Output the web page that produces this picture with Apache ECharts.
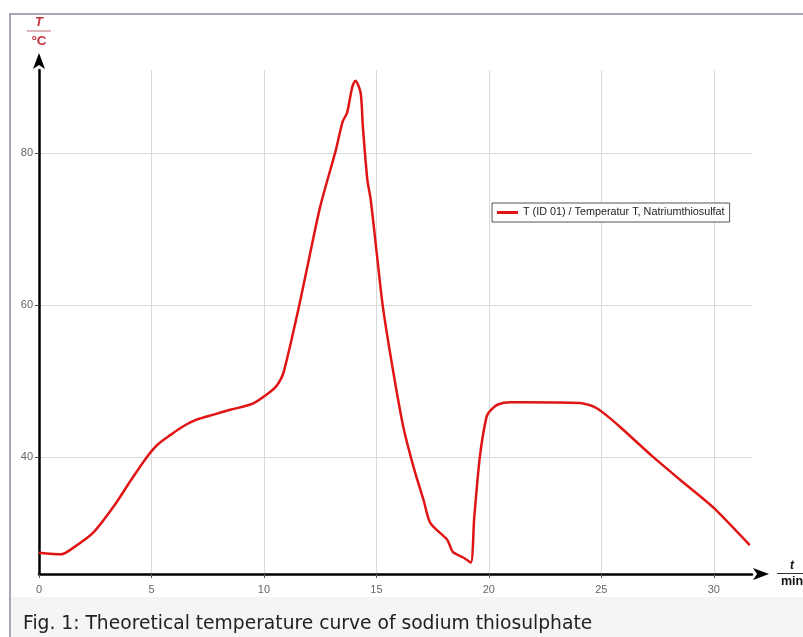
<!DOCTYPE html>
<html lang="en">
    <head>
        <meta charset="utf-8">
        <title>Temperature curve of sodium thiosulphate</title>
        <style>
            html, body { margin: 0; padding: 0; background: #fff; }
        </style>
    </head>

    <body>
        <div id="echart" style="width: 803px; height: 637px;"></div>
        <script src="https://cdn.jsdelivr.net/npm/echarts@6/dist/echarts.min.js"></script>
        <script>
            // measured curve, t in min, T in °C
            let times = [0, 1, 1.5, 2.4, 3.3, 4.1, 4.8, 5.3, 5.85, 6.4, 7.0, 7.8, 8.5, 9.5, 10.3, 10.6, 10.87,
                11.5, 11.93, 12.5, 13.2, 13.5, 13.7, 13.93, 14.07, 14.3, 14.4, 14.6, 14.75, 15.05, 15.3, 15.75,
                16.2, 16.65, 17.1, 17.4, 18.15, 18.4, 18.9, 19.2, 19.35, 19.6, 19.9, 20.1, 20.4, 20.95, 21.5,
                24.05, 24.5, 24.8, 25.3, 25.85, 27.3, 28.5, 30, 31.6];
            let temps = [27.4, 27.2, 28.0, 30.0, 33.4, 37.0, 40.0, 41.7, 42.9, 44.0, 44.9, 45.6, 46.2, 47.0, 48.6, 49.5, 51.1,
                59.0, 65.0, 72.9, 80.4, 84.1, 85.3, 88.7, 89.5, 87.9, 83.4, 76.4, 73.8, 65.9, 59.5, 51.2,
                43.9, 38.7, 34.3, 31.3, 29.1, 27.5, 26.7, 26.1, 32.0, 40.0, 45.3, 46.2, 46.9, 47.2, 47.2,
                47.1, 46.8, 46.4, 45.3, 43.9, 40.0, 37.0, 33.3, 28.4];
            let xTicks = [0, 5, 10, 15, 20, 25, 30];
            let yTicks = [40, 60, 80];
            let seriesName = 'T (ID 01) / Temperatur T, Natriumthiosulfat';

            let data = times.map((t, i) => [t, temps[i]]);

            let myChart = echarts.init(document.getElementById('echart'));
            let labelFont = 'Liberation Sans, Arial, sans-serif';

            let option = {
                animation: false,
                backgroundColor: '#fff',
                grid: { left: 39, top: 70, right: 51, bottom: 63, containLabel: false, outerBoundsMode: 'none' },
                graphic: [
                    { type: 'rect', shape: { x: 11, y: 597, width: 792, height: 40 }, style: { fill: '#f5f5f5' } },
                    { type: 'rect', shape: { x: 9, y: 13, width: 794, height: 2 }, style: { fill: '#a2a9b1' } },
                    { type: 'rect', shape: { x: 9, y: 13, width: 2, height: 624 }, style: { fill: '#a2a9b1' } },
                    {
                        type: 'text', x: 23, y: 624.5,
                        style: {
                            text: 'Fig. 1: Theoretical temperature curve of sodium thiosulphate',
                            font: '18.7px DejaVu Sans', fill: '#202122', verticalAlign: 'middle'
                        }
                    }
                ],
                legend: {
                    left: 492, top: 203,
                    padding: [4, 5, 4, 5],
                    backgroundColor: '#fff',
                    borderColor: '#555',
                    borderWidth: 1,
                    borderRadius: 0,
                    icon: 'rect',
                    itemWidth: 21,
                    itemHeight: 3,
                    textStyle: { fontSize: 10.8, color: '#222', fontFamily: labelFont },
                    data: [seriesName]
                },
                xAxis: {
                    type: 'value',
                    min: 0,
                    max: 31.7,
                    name: '{t|t}\n{bar|}\n{u|min}',
                    nameLocation: 'end',
                    nameGap: 25,
                    nameTextStyle: {
                        rich: {
                            t: { fontSize: 12, fontStyle: 'italic', fontWeight: 'bold', color: '#111', align: 'center', width: 30, lineHeight: 11 },
                            bar: { width: 30, height: 1, backgroundColor: '#333', lineHeight: 4 },
                            u: { fontSize: 12.5, fontWeight: 'bold', color: '#111', align: 'center', width: 30, lineHeight: 12 }
                        }
                    },
                    axisLine: { lineStyle: { color: '#000', width: 2.5 }, symbol: ['none', 'arrow'], symbolSize: [9, 16], symbolOffset: [0, 17] },
                    axisTick: { customValues: xTicks, length: 4, lineStyle: { color: '#555' } },
                    axisLabel: { customValues: xTicks, color: '#666', fontSize: 11, fontFamily: labelFont, margin: 10 },
                    splitLine: { show: true, lineStyle: { color: '#d9d9d9', width: 1 } }
                },
                yAxis: {
                    type: 'value',
                    min: 24.6,
                    max: 90.9,
                    name: '{t|T}\n{bar|}\n{u|°C}',
                    nameLocation: 'end',
                    nameGap: 22,
                    nameTextStyle: {
                        align: 'center',
                        rich: {
                            t: { fontSize: 13, fontStyle: 'italic', fontWeight: 'bold', color: '#c8323c', align: 'center', width: 24, lineHeight: 12 },
                            bar: { width: 24, height: 1, backgroundColor: '#b86a70', lineHeight: 6 },
                            u: { fontSize: 13.5, fontWeight: 'bold', color: '#c8323c', align: 'center', width: 24, lineHeight: 14 }
                        }
                    },
                    axisLine: { lineStyle: { color: '#000', width: 2.5 }, symbol: ['none', 'arrow'], symbolSize: [9, 16], symbolOffset: [0, 17] },
                    axisTick: { customValues: yTicks, length: 4, lineStyle: { color: '#555' } },
                    axisLabel: { customValues: yTicks, color: '#666', fontSize: 11, fontFamily: labelFont, margin: 6 },
                    splitLine: { show: true, lineStyle: { color: '#d9d9d9', width: 1 } }
                },
                series: [
                    {
                        name: seriesName,
                        type: 'line',
                        data: data,
                        smooth: 0.25,
                        showSymbol: false,
                        itemStyle: { color: '#e01414' },
                        lineStyle: { color: '#e01414', width: 2.5 }
                    }
                ]
            };
            myChart.setOption(option);
        </script>
    </body>
</html>
